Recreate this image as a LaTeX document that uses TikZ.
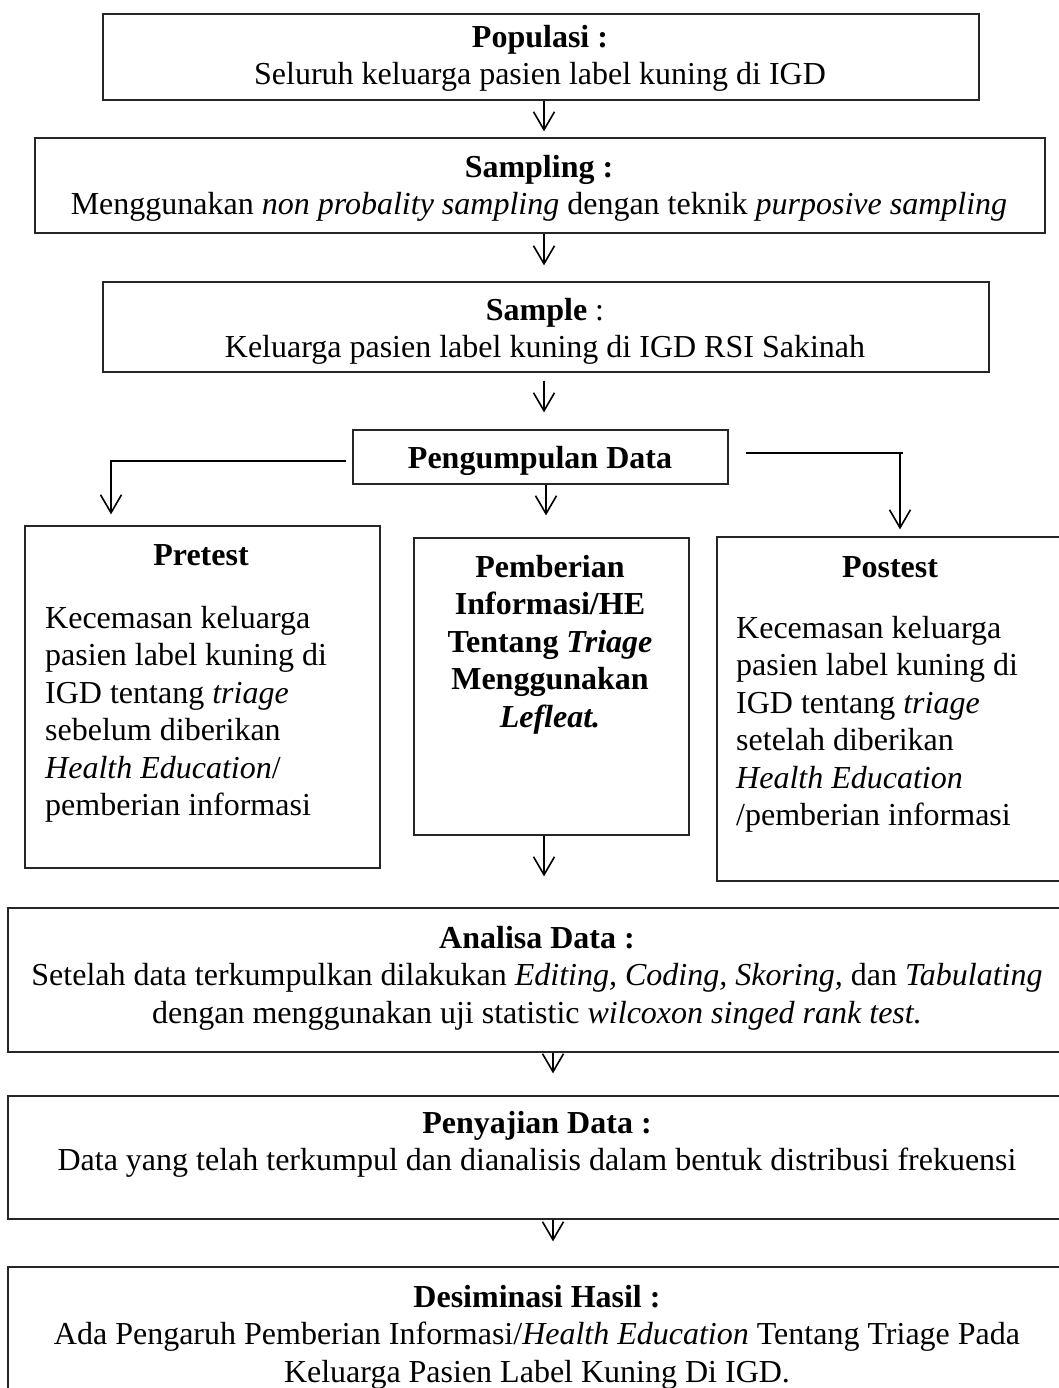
\documentclass[tikz,border=0pt]{standalone}
\usepackage{fontspec}
\setmainfont{Liberation Serif}
\usetikzlibrary{arrows.meta}
\newcommand\fsz{\fontsize{32pt}{37.5pt}\selectfont}
\begin{document}
\begin{tikzpicture}[x=1pt,y=-1pt,
  box/.style={draw=black!85, line width=1.3pt, rectangle, inner sep=0pt},
  tb/.style={inner sep=0pt, align=center, font=\fsz, anchor=north},
  tl/.style={inner sep=0pt, align=left, font=\fsz, anchor=north west},
  conn/.style={draw=black, line width=1.6pt},
  arr/.style={conn, -{Straight Barb[length=18pt,width=21pt,line width=1.6pt]}}
]
\clip (0,0) rectangle (1059,1388);
\fill[white] (0,0) rectangle (1059,1388);

% boxes
\node[box, minimum width=876pt, minimum height=86pt] (pop) at (541,57) {};
\node[box, minimum width=1010pt, minimum height=95pt] (samp) at (540,185.5) {};
\node[box, minimum width=886pt, minimum height=90pt] (sample) at (546,327) {};
\node[box, minimum width=375pt, minimum height=54pt] (pd) at (540.5,457) {};
\node[box, minimum width=355pt, minimum height=342pt] (pre) at (202.5,697) {};
\node[box, minimum width=275pt, minimum height=297pt] (mid) at (551.5,686.5) {};
\node[box, minimum width=358pt, minimum height=344pt] (post) at (896,709) {};
\node[box, minimum width=1067pt, minimum height=144pt] (ana) at (541.5,980) {};
\node[box, minimum width=1067pt, minimum height=123pt] (pen) at (541.5,1157.5) {};
\node[box, minimum width=1067pt, minimum height=133pt] (des) at (541.5,1333.5) {};

% texts
\node[tb] (tpop) at (540,47-26.25) {\strut\textbf{Populasi :}\\Seluruh keluarga pasien label kuning di IGD};
\node[tb] (tsamp) at (539,177-26.25) {\strut\textbf{Sampling :}\\Menggunakan \textit{non probality sampling} dengan teknik \textit{purposive sampling}};
\node[tb] (tsample) at (545,320-26.25) {\strut\textbf{Sample} :\\Keluarga pasien label kuning di IGD RSI Sakinah};
\node[tb] (tpd) at (540,468-26.25) {\strut\textbf{Pengumpulan Data}};
\node[tb] (tpre) at (201,565-26.25) {\strut\textbf{Pretest}};
\node[tl] (tpreb) at (45,628-26.25) {\strut Kecemasan keluarga\\pasien label kuning di\\IGD tentang \textit{triage}\\sebelum diberikan\\\textit{Health Education}/\\pemberian informasi};
\node[tb] (tmid) at (550,577-26.25) {\strut\textbf{Pemberian}\\\textbf{Informasi/HE}\\\textbf{Tentang \textit{Triage}}\\\textbf{Menggunakan}\\\textbf{\textit{Lefleat.}}};
\node[tb] (tpost) at (890,577-26.25) {\strut\textbf{Postest}};
\node[tl] (tpostb) at (736,638-26.25) {\strut Kecemasan keluarga\\pasien label kuning di\\IGD tentang \textit{triage}\\setelah diberikan\\\textit{Health Education}\\/pemberian informasi};
\node[tb] (tana) at (537,948-26.25) {\strut\textbf{Analisa Data :}\\Setelah data terkumpulkan dilakukan \textit{Editing, Coding, Skoring,} dan \textit{Tabulating}\\dengan menggunakan uji statistic \textit{wilcoxon singed rank test.}};
\node[tb] (tpen) at (537,1133-26.25) {\strut\textbf{Penyajian Data :}\\Data yang telah terkumpul dan dianalisis dalam bentuk distribusi frekuensi};
\node[tb] (tdes) at (537,1307-26.25) {\strut\textbf{Desiminasi Hasil :}\\Ada Pengaruh Pemberian Informasi/\textit{Health Education} Tentang Triage Pada\\Keluarga Pasien Label Kuning Di IGD.};

% connectors
\coordinate (c1) at (544,0);
\coordinate (c2) at (546,0);
\coordinate (c3) at (553,0);
\draw[arr, shorten >=6pt] (pop.south -| c1) -- (samp.north -| c1);
\draw[arr, shorten >=16pt] (samp.south -| c1) -- (sample.north -| c1);
\draw[arr, shorten <=8pt, shorten >=17pt] (sample.south -| c1) -- (pd.north -| c1);
\draw[arr, shorten >=22pt] (pd.south -| c2) -- (mid.north -| c2);
\draw[arr, shorten >=31pt] (mid.south -| c1) -- (ana.north -| c1);
\draw[arr, shorten >=22pt] (ana.south -| c3) -- (pen.north -| c3);
\draw[arr, shorten >=25pt] (pen.south -| c3) -- (des.north -| c3);

\coordinate (lc) at (111,461);
\coordinate (rc) at (900,453);
\coordinate (rce) at (903,453);
\draw[arr, shorten >=11pt] ([xshift=-6pt]pd.west |- lc) -- (lc) -- (lc |- pre.north);
\draw[conn] ([xshift=17pt]pd.east |- rc) -- (rce);
\draw[arr, shorten >=7pt] (rc) -- (rc |- post.north);
\end{tikzpicture}
\end{document}
